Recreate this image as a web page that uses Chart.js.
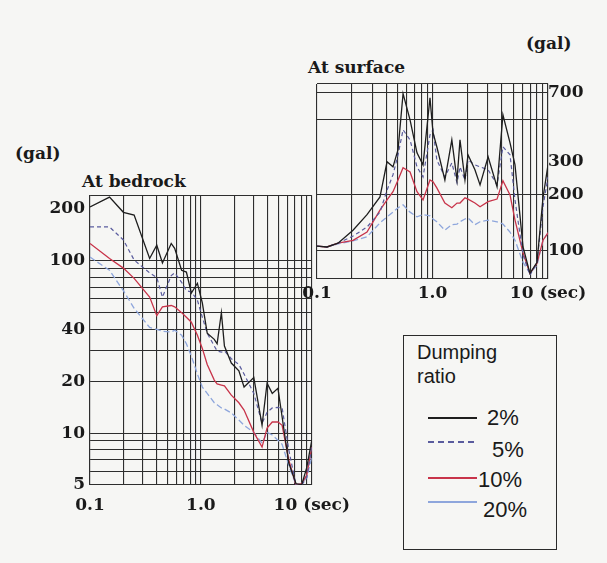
<!DOCTYPE html>
<html>
<head>
<meta charset="utf-8">
<script src="https://cdn.jsdelivr.net/npm/chart.js@4.4.1/dist/chart.umd.min.js"></script>
<style>
  body { margin: 0; width: 607px; height: 563px; background: #f6f6f4; position: relative; overflow: hidden; }
  canvas { position: absolute; }
  .lbl { position: absolute; font-family: "DejaVu Serif", serif; font-weight: bold; font-size: 17px; line-height: 20px; color: #1a1a1a; white-space: nowrap; }
  .box { position: absolute; left: 403px; top: 335px; width: 152px; height: 213px; border: 1.5px solid #2a2a2a; }
  .lt { position: absolute; font-family: "Liberation Sans", Arial, sans-serif; color: #1a1a1a; white-space: nowrap; }
  .sample { position: absolute; left: 428px; width: 49px; height: 2px; }
</style>
</head>
<body>
<div class="lbl" style="left:15px; top:143px;">(gal)</div>
<div class="lbl" style="left:82px; top:171px;">At bedrock</div>
<div class="lbl" style="left:308px; top:57px;">At surface</div>
<div class="lbl" style="left:526px; top:33px;">(gal)</div>

<canvas id="bedrock" width="360" height="350" style="left:0; top:180px;"></canvas>
<canvas id="surface" width="317" height="260" style="left:290px; top:60px;"></canvas>

<div class="box"></div>
<div class="lt" style="left:417px; top:340px; font-size:20px; line-height:24px;">Dumping</div>
<div class="lt" style="left:417px; top:364px; font-size:20px; line-height:24px;">ratio</div>
<div class="sample" style="top:417px; background:#1e1e1e;"></div>
<div class="lt" style="left:487px; top:406px; font-size:22px; line-height:24px;">2%</div>
<div class="sample" style="top:441px; background:repeating-linear-gradient(to right, #5a5c9e 0 6px, transparent 6px 10px);"></div>
<div class="lt" style="left:492px; top:438px; font-size:22px; line-height:24px;">5%</div>
<div class="sample" style="top:477px; background:#c8344a;"></div>
<div class="lt" style="left:478px; top:468px; font-size:22px; line-height:24px;">10%</div>
<div class="sample" style="top:501px; background:#8ea6dc;"></div>
<div class="lt" style="left:483px; top:498px; font-size:22px; line-height:24px;">20%</div>

<script>
// periods (sec) and response values (gal)
const bedrockPeriods = [0.1, 0.15, 0.2, 0.25, 0.345, 0.4, 0.45, 0.54, 0.58, 0.67, 0.74, 0.82, 0.93, 1.03, 1.14, 1.32, 1.4, 1.53, 1.63, 1.88, 2.2, 2.45, 3.0, 3.56, 3.95, 4.4, 4.95, 5.4, 6.2, 7.2, 8.1, 9.0, 10];
const bedrock2 = [205, 234, 191, 184, 103, 123, 97, 126, 118, 88, 86, 65, 74, 57, 38, 35, 33, 50, 32, 25.5, 23, 18.5, 21, 11.1, 19.5, 17, 18.2, 12.4, 6.7, 5.1, 5.0, 6.3, 9.1];
const bedrock5 = [157, 157, 132, 101, 85, 80, 61.5, 82, 85, 75, 67, 66, 59, 47, 38, 32, 30, 29.5, 30, 27, 25, 22, 17, 11.4, 13.2, 14, 14.1, 14, 8, 5, 5, 5.5, 8.3];
const bedrock10 = [126, 103, 90.6, 79, 61.5, 48, 54, 55, 54, 50, 47, 44, 37, 31, 25, 20.3, 19.3, 19, 18.8, 16.6, 15, 13.6, 10.1, 8.3, 10.7, 11.6, 11.6, 11.1, 7, 5, 5.1, 5.7, 8.3];
const bedrock20 = [105, 88, 67, 53, 41, 40, 39, 38.6, 39.5, 37, 33, 28, 22, 18.5, 17, 15, 14.6, 14, 13.8, 13.1, 11.9, 11.1, 10.1, 8.75, 10.1, 9.75, 9.1, 8.6, 6.5, 5, 5.1, 5.5, 7.3];

const surfacePeriods = [0.1, 0.122, 0.152, 0.205, 0.271, 0.351, 0.404, 0.455, 0.503, 0.556, 0.639, 0.734, 0.828, 0.951, 1.01, 1.09, 1.28, 1.47, 1.63, 1.73, 1.91, 2.03, 2.33, 2.58, 3.03, 3.62, 4.07, 4.69, 5.18, 6.08, 6.98, 8.03, 9.05, 10];
const surface2 = [105, 104, 109, 128, 155, 193, 298, 280, 346, 692, 501, 333, 287, 658, 427, 359, 238, 391, 238, 391, 238, 325, 270, 224, 317, 219, 533, 377, 287, 104, 75, 86, 191, 287];
const surface5 = [105, 104, 109, 119, 133, 160, 210, 254, 325, 443, 391, 280, 247, 416, 443, 305, 247, 294, 230, 280, 238, 305, 287, 280, 270, 224, 359, 325, 186, 94, 73.5, 86, 171, 247];
const surface10 = [105, 104, 109, 113, 125, 164, 186, 206, 238, 277, 263, 206, 186, 238, 233, 216, 179, 169, 179, 179, 191, 188, 179, 171, 182, 188, 236, 198, 145, 96.5, 75, 85, 113, 124];
const surface20 = [105, 104, 108, 112, 118, 140, 151, 160, 169, 175, 160, 151, 155, 153, 147, 142, 128, 137, 138, 142, 147, 149, 137, 142, 145, 142, 138, 125, 113, 86, 75, 83, 113, 124];

// axes
const xGrid = [0.1, 0.2, 0.3, 0.4, 0.5, 0.6, 0.7, 0.8, 0.9, 1, 2, 3, 4, 5, 6, 7, 8, 9, 10];
const xTickValues = [0.1, 1, 10];
const xTickLabels = ["0.1", "1.0", "10 (sec)"];

const bedrockGrid = [5, 6, 7, 8, 9, 10, 20, 30, 40, 50, 60, 70, 80, 90, 100, 240];
const bedrockTickValues = [5, 10, 20, 40, 100, 200];
const bedrockTickLabels = ["5", "10", "20", "40", "100", "200"];

const surfaceGrid = [70, 100, 200, 500, 700, 780];
const surfaceTickValues = [100, 200, 300, 700];
const surfaceTickLabels = ["100", "200", "300", "700"];

const GRID = "#2e2e2e";
const tickFont = { family: "DejaVu Serif", size: 17, weight: "bold" };

function points(periods, vals) {
  return periods.map((p, i) => ({ x: p, y: vals[i] }));
}

function findLabel(v, values, labels) {
  const i = values.findIndex(t => Math.abs(t - v) < 1e-6);
  return i < 0 ? "" : labels[i];
}

function makeDatasets(periods, s2, s5, s10, s20) {
  return [
    { label: "2%", data: points(periods, s2), borderColor: "#1e1e1e", borderWidth: 1.3 },
    { label: "5%", data: points(periods, s5), borderColor: "#5a5c9e", borderWidth: 1.2, borderDash: [4, 3] },
    { label: "10%", data: points(periods, s10), borderColor: "#c8344a", borderWidth: 1.3 },
    { label: "20%", data: points(periods, s20), borderColor: "#8ea6dc", borderWidth: 1.3, borderDash: [6, 3] },
  ].map(d => Object.assign(d, { pointRadius: 0, tension: 0, fill: false }));
}

function xAxis(height, pad) {
  return {
    type: "logarithmic", min: 0.1, max: 10,
    afterBuildTicks: ax => { ax.ticks = [...new Set([...xGrid, ...xTickValues])].map(v => ({ value: v })); },
    afterFit: ax => { ax.height = height; },
    grid: { color: GRID, lineWidth: 1.1, drawTicks: false },
    border: { color: GRID, width: 1.1 },
    ticks: {
      autoSkip: false, maxRotation: 0, padding: pad, color: "#1a1a1a", font: tickFont,
      callback: v => findLabel(v, xTickValues, xTickLabels)
    }
  };
}

function yAxis(min, max, grid, values, labels, pos, width, pad) {
  return {
    type: "logarithmic", min: min, max: max, position: pos,
    afterBuildTicks: ax => {
      ax.ticks = [...new Set([...grid, ...values])].sort((a, b) => a - b).map(v => ({ value: v }));
    },
    afterFit: ax => { ax.width = width; },
    grid: {
      drawTicks: false, lineWidth: 1.1,
      color: c => grid.includes(c.tick.value) ? GRID : "rgba(0,0,0,0)"
    },
    border: { color: GRID, width: 1.1 },
    ticks: {
      autoSkip: false, padding: pad, color: "#1a1a1a", font: tickFont,
      callback: v => findLabel(v, values, labels)
    }
  };
}

const common = {
  responsive: false,
  animation: false,
  plugins: { legend: { display: false }, tooltip: { enabled: false } },
};

new Chart(document.getElementById("bedrock"), {
  type: "line",
  data: { datasets: makeDatasets(bedrockPeriods, bedrock2, bedrock5, bedrock10, bedrock20) },
  options: Object.assign({}, common, {
    layout: { padding: { left: 0, right: 47, top: 15, bottom: 5 } },
    scales: {
      x: xAxis(40, 10),
      y: yAxis(5, 240, bedrockGrid, bedrockTickValues, bedrockTickLabels, "left", 90, 5)
    }
  })
});

new Chart(document.getElementById("surface"), {
  type: "line",
  data: { datasets: makeDatasets(surfacePeriods, surface2, surface5, surface10, surface20) },
  options: Object.assign({}, common, {
    layout: { padding: { left: 27, right: 9, top: 24, bottom: 11 } },
    scales: {
      x: xAxis(30, 4),
      y: yAxis(70, 780, surfaceGrid, surfaceTickValues, surfaceTickLabels, "right", 50, 0)
    }
  })
});
</script>
</body>
</html>
